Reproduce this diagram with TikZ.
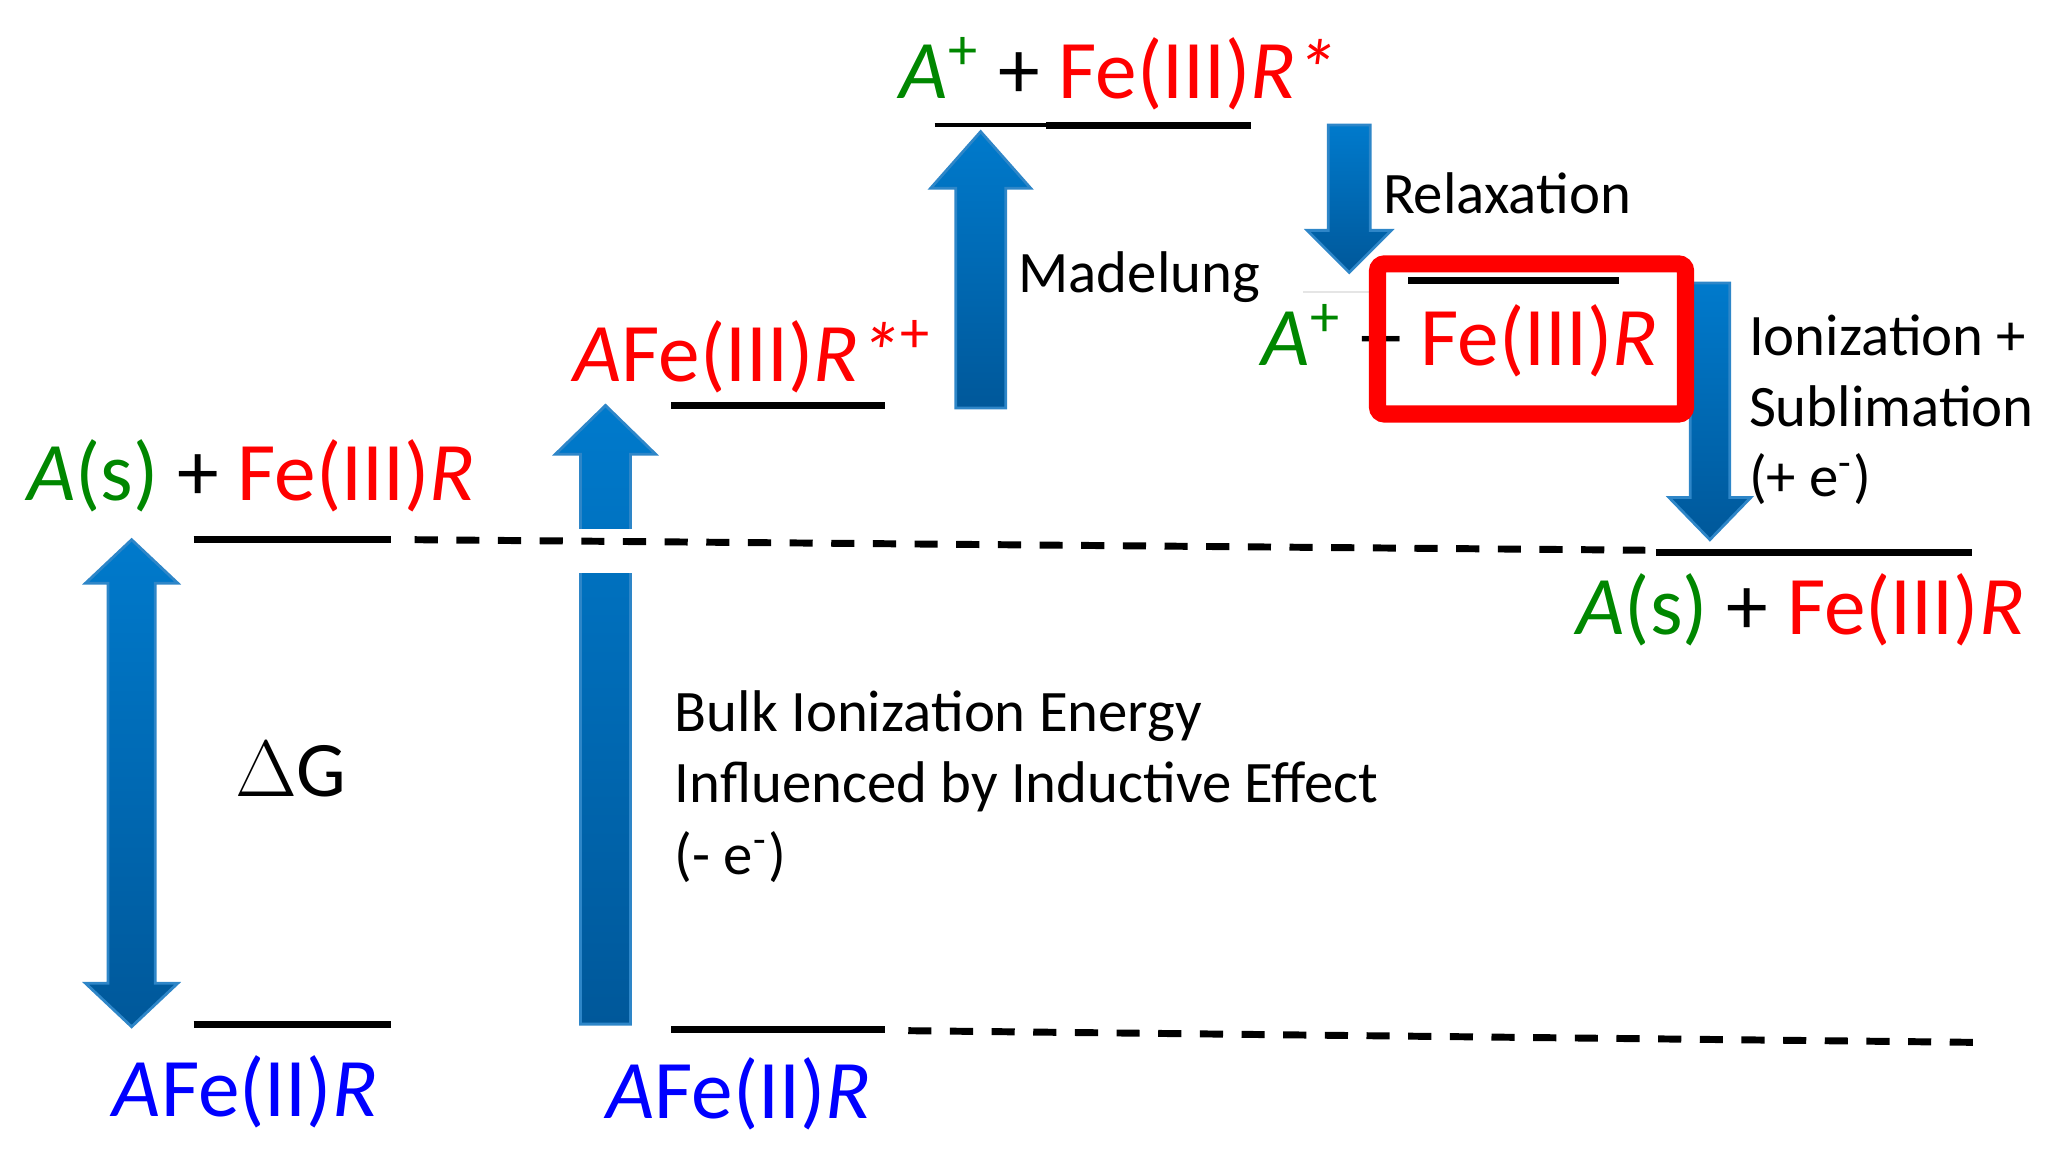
\documentclass[tikz,border=0pt]{standalone}
\usepackage{fontspec}
\setmainfont{Carlito}
\newfontfamily\deltafont{Liberation Serif}
\definecolor{agreen}{RGB}{0,135,0}
\definecolor{fered}{RGB}{255,0,0}
\definecolor{afblue}{RGB}{0,0,255}
\definecolor{arrtop}{RGB}{0,122,204}
\definecolor{arrbot}{RGB}{0,88,154}
\definecolor{arredge}{RGB}{46,134,200}

\begin{document}
\begin{tikzpicture}[x=0.01cm,y=-0.01cm,
  level/.style={line width=1.5pt},
  leveldash/.style={line width=1.5pt,dash pattern=on 5pt off 4pt},
  blockarrow/.style={draw=arredge,line width=0.6pt,top color=arrtop,bottom color=arrbot},
  big/.style={font=\fontsize{18}{21}\selectfont,inner sep=0pt,anchor=base west},
  small/.style={font=\fontsize{12.7}{15}\selectfont,inner sep=0pt,anchor=base west}]
\useasboundingbox (0,0) rectangle (1568,878);
% block arrows
\path[blockarrow] (100,410) -- (135,443) -- (118,443) -- (118,747) -- (135,747) -- (100,780)
  -- (65,747) -- (82,747) -- (82,443) -- (65,443) -- cycle;
\path[blockarrow] (441,778) -- (441,345) -- (422,345) -- (460,308) -- (498,345) -- (479,345) -- (479,778) -- cycle;
\fill[white] (435,402) rectangle (485,435);
\path[blockarrow] (726,310) -- (726,143) -- (707,143) -- (745,100) -- (783,143) -- (764,143) -- (764,310) -- cycle;
\path[blockarrow] (1009,95) -- (1009,175) -- (993,175) -- (1025,207) -- (1057,175) -- (1041,175) -- (1041,95) -- cycle;
\path[blockarrow] (1284,215) -- (1284,378) -- (1268,378) -- (1299,410) -- (1330,378) -- (1314,378) -- (1314,215) -- cycle;
% levels
\draw[level] (147,410) -- (297,410);
\draw[level] (147,778) -- (297,778);
\draw[level] (510,308) -- (672,308);
\draw[level] (510,782) -- (672,782);
\draw[line width=1pt] (710,95) -- (800,95);
\draw[level] (795,95) -- (950,95);
\draw[black!10,line width=0.5pt] (990,222) -- (1043,222);
\draw[level] (1070,213) -- (1230,213);
\draw[level] (1258,420) -- (1498,420);
\draw[leveldash] (315,410) -- (1250,418);
\draw[leveldash] (690,783) -- (1512,792);
% labels
\node[big] (sl) at (20,380) {\textcolor{agreen}{\textit{A}(s)} + \textcolor{fered}{Fe(III)\textit{R}}};
\node[big,text=afblue] (gl) at (85,848) {\textit{A}Fe(II)\textit{R}};
\node[big,text=afblue] (gm) at (460,850) {\textit{A}Fe(II)\textit{R}};
\node[big,text=fered] (ex) at (435,290) {\textit{A}Fe(III)\textit{R*}\textsuperscript{+}};
\node[big] (top) at (683,75) {\textcolor{agreen}{\textit{A}\textsuperscript{+}} + \textcolor{fered}{Fe(III)\textit{R*}}};
\node[big] (rel) at (958,278) {\textcolor{agreen}{\textit{A}\textsuperscript{+}} + \textcolor{fered}{Fe(III)\textit{R}}};
\node[big] (sr) at (1197,482) {\textcolor{agreen}{\textit{A}(s)} + \textcolor{fered}{Fe(III)\textit{R}}};
\node[big,font=\fontsize{17}{20}\selectfont] (dg) at (178,605) {{\deltafont\(\Delta\)}G};
\node[small] (bulk1) at (512,556) {Bulk Ionization Energy};
\node[small] (bulk2) at (512,610) {Influenced by Inductive Effect};
\node[small] (bulk3) at (512,664) {(- e\textsuperscript{-})};
\node[small] (mad) at (773,222) {Madelung};
\node[small] (rlx) at (1050,162) {Relaxation};
\node[small] (ion1) at (1328,270) {Ionization +};
\node[small] (ion2) at (1328,324) {Sublimation};
\node[small] (ion3) at (1328,377) {(+ e\textsuperscript{-})};
% box
\draw[fered,line width=3.7pt,rounded corners=1.5pt] (1046.5,200.5) rectangle (1280.5,314.5);
\end{tikzpicture}
\end{document}
